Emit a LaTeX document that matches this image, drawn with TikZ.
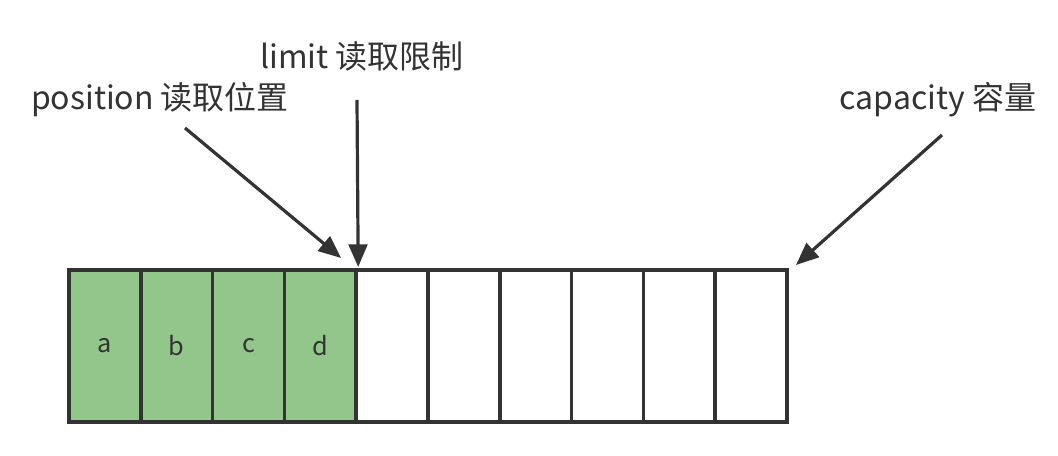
\documentclass[tikz,border=0pt]{standalone}
\usepackage{fontspec}
\setmainfont{Noto Sans CJK SC}
\usepackage{xcolor}
\usetikzlibrary{calc,arrows.meta,positioning}
\definecolor{linec}{HTML}{333333}
\definecolor{fullc}{HTML}{92C68A}
\tikzset{
  cell/.style={draw=linec,line width=2.6pt,minimum width=53.85pt,minimum height=114pt,inner sep=0pt,outer sep=0pt,font=\fontsize{19}{22}\selectfont,text=linec},
  full/.style={cell,fill=fullc},
  ar/.style={-{Triangle[length=17pt,width=14pt]},line width=2.4pt,linec},
  lbl/.style={font=\fontsize{24}{28}\selectfont,text=linec,inner sep=0pt}
}
\begin{document}
\begin{tikzpicture}[x=0.75pt,y=-0.75pt]
\useasboundingbox (0,0) rectangle (1058,456);
% buffer cells
\node[full] (c1) at (104.9,346) {a};
\node[full,right=0pt of c1] (c2) {b};
\node[full,right=0pt of c2] (c3) {c};
\node[full,right=0pt of c3] (c4) {d};
\foreach \i [count=\j from 5] in {4,...,9}
  \node[cell,right=0pt of c\i] (c\j) {};
% labels
\node[lbl] (pos) at (160,100) {position 读取位置};
\node[lbl] (lim) at (362,56) {limit 读取限制};
\node[lbl] (cap) at (938,100) {capacity 容量};
\coordinate (pos0) at (185,128);
\coordinate (lim0) at (357,100);
\coordinate (cap0) at (942,135);
% pointers
\draw[ar] (pos0) -- ($(c5.north west)+(-15,-12)$);
\draw[ar] (lim0) -- ($(c5.north west)+(2,-3)$);
\draw[ar] (cap0) -- ($(c10.north east)+(9,-5)$);
\end{tikzpicture}
\end{document}
